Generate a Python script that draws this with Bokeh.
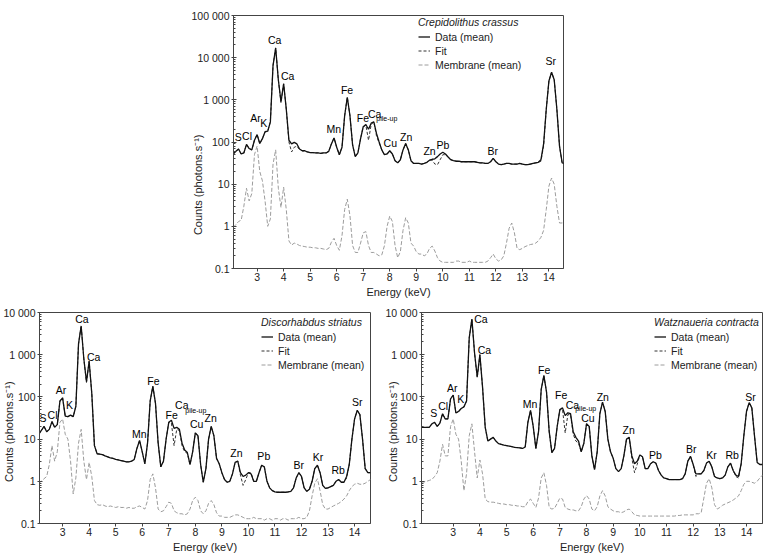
from bokeh.plotting import figure
from bokeh.models import (ColumnDataSource, Range1d, FixedTicker, CustomJSTickFormatter,
                          Legend, LegendItem)
from bokeh.layouts import column, row
from bokeh.embed import file_html
from bokeh.resources import INLINE
from bokeh.core.properties import value

FONT = "Liberation Sans"

# energy grids (keV)
energy_a = [round(2.1 + 0.1 * i, 1) for i in range(126)]   # 2.1 .. 14.6
energy_c = [round(1.8 + 0.1 * i, 1) for i in range(129)]   # 1.8 .. 14.6
x_ticks = [3, 4, 5, 6, 7, 8, 9, 10, 11, 12, 13, 14]

# ---------------- Crepidolithus crassus ----------------
crep_data = [
    52, 60, 68, 52, 55, 88, 70, 65, 110, 150,
    92, 120, 175, 180, 300, 6500, 17000, 3000, 900, 2400,
    600, 110, 90, 98, 90, 68, 62, 62, 58, 56,
    56, 55, 55, 54, 55, 55, 60, 90, 125, 75,
    50, 75, 420, 1150, 420, 85, 45, 55, 120, 230,
    260, 200, 280, 300, 160, 100, 65, 50, 52, 62,
    52, 36, 32, 38, 65, 92, 65, 36, 31, 31,
    31, 30, 31, 33, 37, 39, 40, 45, 52, 57,
    52, 44, 38, 36, 35, 35, 34, 34, 34, 34,
    34, 34, 33, 32, 32, 31, 31, 34, 41, 34,
    30, 29, 30, 31, 31, 30, 30, 30, 31, 30,
    29, 29, 30, 31, 32, 33, 38, 90, 600, 2800,
    4500, 3000, 600, 80, 32, 31]
crep_fit = [
    52, 60, 68, 52, 55, 88, 70, 65, 110, 150,
    92, 120, 175, 180, 300, 6500, 17000, 3000, 850, 2400,
    600, 100, 58, 75, 80, 66, 62, 60, 58, 56,
    56, 55, 55, 54, 55, 55, 60, 90, 125, 75,
    50, 75, 420, 1150, 420, 85, 45, 55, 120, 230,
    250, 110, 260, 300, 140, 95, 65, 50, 52, 62,
    52, 36, 32, 38, 65, 92, 65, 36, 31, 31,
    31, 30, 31, 33, 37, 37, 30, 29, 38, 50,
    50, 44, 38, 36, 35, 35, 34, 34, 34, 34,
    34, 34, 33, 32, 32, 31, 31, 34, 41, 34,
    30, 29, 30, 31, 31, 30, 30, 30, 31, 30,
    29, 29, 30, 31, 32, 33, 35, 80, 600, 2800,
    4500, 3000, 600, 80, 31, 31]
crep_memb = [
    0.95, 1.1, 1.3, 1.4, 3, 8, 4, 6, 50, 80,
    20, 12, 4, 1.0, 1.5, 30, 65, 8, 2.8, 8.5,
    2.5, 0.45, 0.36, 0.40, 0.38, 0.35, 0.34, 0.33, 0.32, 0.32,
    0.31, 0.31, 0.30, 0.30, 0.29, 0.28, 0.30, 0.42, 0.52, 0.35,
    0.27, 0.6, 2.5, 4.4, 1.8, 0.35, 0.24, 0.24, 0.4, 0.7,
    0.75, 0.35, 0.24, 0.24, 0.22, 0.20, 0.21, 0.35, 1.0, 1.75,
    1.3, 0.35, 0.18, 0.25, 0.8, 1.6, 1.2, 0.4, 0.34, 0.25,
    0.22, 0.22, 0.2, 0.22, 0.3, 0.34, 0.26, 0.18, 0.15, 0.14,
    0.14, 0.14, 0.14, 0.14, 0.15, 0.15, 0.14, 0.14, 0.14, 0.15,
    0.14, 0.14, 0.14, 0.14, 0.14, 0.14, 0.15, 0.18, 0.22, 0.17,
    0.15, 0.16, 0.2, 0.4, 0.9, 1.2, 0.7, 0.3, 0.28, 0.3,
    0.33, 0.35, 0.37, 0.38, 0.40, 0.45, 0.55, 0.8, 2.5, 9,
    14, 10, 3, 1.2, 1.2, 1.3]
crep_lab_text = ["S", "Cl", "Ar", "K", "Ca", "Ca", "Mn", "Fe", "Fe", "Ca", "Cu", "Zn", "Zn", "Pb", "Br", "Sr"]
crep_lab_x = [2.285, 2.62, 2.94, 3.25, 3.66, 4.15, 5.89, 6.39, 6.99, 7.43, 8.02, 8.62, 9.5, 10.0, 11.88, 14.07]
crep_lab_y = [129, 142, 372, 278, 26900, 3600, 204, 1730, 372, 464, 93, 134, 60, 86, 60, 8180]
crep_sub = (7.89, 353)

# ---------------- Discorhabdus striatus ----------------
disc_data = [
    13, 16, 20, 15, 17, 26, 19, 22, 80, 95,
    35, 34, 37, 34, 60, 1800, 4800, 800, 230, 700,
    120, 7, 4.5, 4.4, 4.3, 4.0, 3.8, 3.6, 3.5, 3.3,
    3.2, 3.1, 3.0, 2.9, 2.9, 3.0, 3.3, 6, 9.3, 5,
    2.6, 8, 80, 178, 70, 8, 2.2, 3, 10, 25,
    28, 18, 19, 17, 8, 5.5, 4.8, 2.5, 5, 14,
    12, 2.5, 0.95, 2, 10, 20, 12, 3.5, 2.6, 1.6,
    1.1, 0.95, 1.0, 1.5, 2.8, 3.0, 1.6, 1.3, 1.4, 1.6,
    1.5, 1.0, 1.0, 1.6, 2.4, 2.2, 1.0, 0.7, 0.6, 0.56,
    0.55, 0.55, 0.55, 0.55, 0.56, 0.58, 0.7, 1.2, 1.6, 1.3,
    0.7, 0.58, 0.65, 1.0, 2.0, 2.4, 1.6, 0.8, 0.68, 0.7,
    0.75, 0.8, 1.0, 1.1, 0.95, 0.95, 1.3, 2.5, 10, 30,
    48, 38, 10, 2.0, 1.6, 1.6]
disc_fit = [
    13, 16, 20, 15, 17, 26, 19, 22, 80, 95,
    35, 34, 37, 34, 60, 1800, 4800, 800, 220, 700,
    120, 7, 4.5, 4.4, 4.3, 4.0, 3.8, 3.6, 3.5, 3.3,
    3.2, 3.1, 3.0, 2.9, 2.9, 3.0, 3.3, 6, 9.3, 5,
    2.6, 8, 80, 178, 70, 8, 2.2, 3, 10, 25,
    24, 7, 17, 16, 7, 5, 4.6, 2.5, 5, 14,
    12, 2.5, 0.95, 2, 10, 20, 12, 3.5, 2.6, 1.6,
    1.1, 0.95, 1.0, 1.5, 2.8, 3.0, 1.4, 0.8, 1.1, 1.6,
    1.6, 1.0, 1.0, 1.6, 2.4, 2.2, 1.0, 0.7, 0.6, 0.56,
    0.55, 0.55, 0.55, 0.55, 0.56, 0.58, 0.7, 1.2, 1.6, 1.3,
    0.7, 0.58, 0.65, 1.0, 2.0, 2.4, 1.6, 0.8, 0.68, 0.7,
    0.75, 0.8, 1.0, 1.1, 0.95, 0.95, 1.2, 2.5, 10, 30,
    48, 38, 10, 2.0, 1.6, 1.6]
disc_memb = [
    0.9, 1.0, 1.15, 1.3, 2.5, 7, 3, 5, 25, 30,
    13, 10, 3, 0.5, 1.2, 8, 17, 3, 1.1, 2.8,
    1.3, 0.35, 0.28, 0.27, 0.28, 0.26, 0.25, 0.26, 0.25, 0.24,
    0.25, 0.24, 0.24, 0.23, 0.24, 0.23, 0.23, 0.25, 0.26, 0.24,
    0.22, 0.35, 1.1, 1.5, 0.7, 0.22, 0.19, 0.2, 0.25, 0.32,
    0.3, 0.2, 0.18, 0.17, 0.17, 0.16, 0.17, 0.22, 0.35, 0.42,
    0.35, 0.2, 0.17, 0.2, 0.3, 0.35, 0.28, 0.18, 0.15, 0.15,
    0.14, 0.14, 0.14, 0.15, 0.16, 0.16, 0.15, 0.14, 0.13, 0.13,
    0.13, 0.14, 0.13, 0.13, 0.13, 0.12, 0.13, 0.13, 0.12, 0.13,
    0.13, 0.12, 0.13, 0.13, 0.12, 0.13, 0.13, 0.13, 0.14, 0.13,
    0.13, 0.14, 0.2, 0.45, 0.9, 1.15, 0.6, 0.28, 0.22, 0.22,
    0.24, 0.26, 0.28, 0.3, 0.33, 0.38, 0.45, 0.6, 0.75, 0.85,
    0.9, 0.85, 0.85, 0.9, 1.0, 1.1]
disc_lab_text = ["S", "Cl", "Ar", "K", "Ca", "Ca", "Mn", "Fe", "Fe", "Ca", "Cu", "Zn", "Zn", "Pb", "Br", "Kr", "Rb", "Sr"]
disc_lab_x = [2.26, 2.62, 2.94, 3.26, 3.73, 4.17, 5.89, 6.42, 7.11, 7.49, 8.05, 8.58, 9.55, 10.58, 11.9, 12.62, 13.38, 14.1]
disc_lab_y = [31.6, 36.5, 149, 65, 7200, 887, 13.4, 239, 36.5, 63, 23, 32, 4.67, 3.9, 2.38, 3.75, 1.81, 76]
disc_sub = (8.02, 48)

# ---------------- Watznaueria contracta ----------------
watz_data = [
    19, 19, 19,
    19, 23, 25, 20, 24, 40, 30, 30, 90, 110,
    42, 45, 53, 58, 80, 2500, 7000, 1100, 300, 1000,
    170, 19, 9, 10, 11, 9, 7.8, 7.5, 7.2, 7.0,
    6.8, 6.6, 6.4, 6.3, 6.2, 6.0, 6.5, 25, 48, 20,
    6, 15, 150, 320, 130, 15, 4.8, 6, 20, 50,
    55, 36, 42, 40, 15, 11, 9, 5, 8, 23,
    20, 4, 1.9, 5, 40, 75, 45, 10, 5, 3.5,
    2, 1.7, 2.0, 4, 10, 11, 4, 2.6, 3.0, 4.2,
    3.8, 2.0, 2.0, 2.6, 2.9, 2.7, 1.8, 1.4, 1.2, 1.15,
    1.1, 1.1, 1.1, 1.1, 1.1, 1.15, 1.5, 3.0, 3.9, 2.5,
    1.5, 1.5, 1.5, 1.8, 2.7, 3.0, 2.2, 1.3, 1.2, 1.15,
    1.2, 1.4, 2.2, 2.7, 1.8, 1.4, 1.3, 2.6, 12, 45,
    73, 55, 12, 2.8, 2.5, 2.5]
watz_fit = [
    19, 19, 19,
    19, 23, 25, 20, 24, 40, 30, 30, 90, 110,
    42, 45, 53, 58, 80, 2500, 7000, 1100, 280, 1000,
    170, 19, 9, 10, 11, 9, 7.8, 7.5, 7.2, 7.0,
    6.8, 6.6, 6.4, 6.3, 6.2, 6.0, 6.5, 25, 48, 20,
    6, 15, 150, 320, 130, 15, 4.8, 6, 20, 50,
    50, 14, 38, 38, 13, 9, 8, 5, 8, 23,
    20, 4, 1.9, 5, 40, 75, 45, 10, 5, 3.5,
    2, 1.7, 2.0, 4, 10, 11, 3.5, 1.6, 2.5, 4.2,
    3.8, 2.0, 2.0, 2.6, 2.9, 2.7, 1.8, 1.4, 1.2, 1.15,
    1.1, 1.1, 1.1, 1.1, 1.1, 1.15, 1.5, 3.0, 3.9, 2.5,
    1.3, 1.5, 1.5, 1.8, 2.7, 3.0, 2.2, 1.3, 1.2, 1.15,
    1.2, 1.4, 2.2, 2.7, 1.8, 1.3, 1.2, 2.6, 12, 45,
    73, 55, 12, 2.8, 2.5, 2.5]
watz_memb = [
    0.95, 0.96, 1.0,
    1.05, 1.1, 1.3, 1.6, 3, 7.5, 4, 4, 20, 30,
    13, 10, 3, 0.6, 1.5, 12, 23, 5, 1.2, 3.2,
    1.5, 0.38, 0.33, 0.32, 0.32, 0.31, 0.30, 0.29, 0.29, 0.28,
    0.28, 0.27, 0.27, 0.26, 0.26, 0.25, 0.25, 0.33, 0.38, 0.3,
    0.24, 0.4, 1.2, 1.6, 0.8, 0.24, 0.22, 0.23, 0.3, 0.4,
    0.38, 0.24, 0.22, 0.21, 0.21, 0.2, 0.2, 0.25, 0.38, 0.46,
    0.38, 0.22, 0.2, 0.25, 0.45, 0.6, 0.45, 0.25, 0.22, 0.2,
    0.19, 0.19, 0.18, 0.19, 0.21, 0.22, 0.19, 0.16, 0.155, 0.15,
    0.15, 0.15, 0.15, 0.15, 0.15, 0.15, 0.15, 0.15, 0.15, 0.15,
    0.15, 0.15, 0.15, 0.155, 0.155, 0.16, 0.16, 0.16, 0.16, 0.16,
    0.17, 0.17, 0.18, 0.4, 0.9, 1.15, 0.7, 0.28, 0.22, 0.24,
    0.27, 0.29, 0.31, 0.33, 0.36, 0.4, 0.45, 0.6, 0.85, 1.0,
    1.0, 0.95, 0.9, 1.0, 1.2, 1.4]
watz_lab_text = ["S", "Cl", "Ar", "K", "Ca", "Ca", "Mn", "Fe", "Fe", "Ca", "Cu", "Zn", "Zn", "Pb", "Br", "Kr", "Rb", "Sr"]
watz_lab_x = [2.27, 2.62, 2.96, 3.28, 4.04, 4.17, 5.88, 6.41, 7.05, 7.47, 8.05, 8.61, 9.58, 10.58, 11.93, 12.69, 13.46, 14.15]
watz_lab_y = [41.6, 60, 166, 91, 7200, 1325, 67, 443, 109, 63, 32, 100, 16.1, 4.3, 5.9, 4.3, 4.3, 100]
watz_sub = (7.97, 52)

series_names = ["Data (mean)", "Fit", "Membrane (mean)"]
y_title = "Counts (photons.s\u207b\u00b9)"
NBSP = "\u00a0"

tick_fmt = CustomJSTickFormatter(code=r"""
if (tick < 1) { return tick.toPrecision(1); }
return Math.round(tick).toString().replace(/\B(?=(\d{3})+(?!\d))/g, " ");
""")


def panel(energy, data, fit, memb, xr, ymax, lab_text, lab_x, lab_y, sub, title,
          fw, fh, mbl, mbr, mbt, mbb, leg_xy, ylab_standoff, ylab_pad):
    p = figure(x_range=Range1d(*xr), y_range=Range1d(0.1, ymax), y_axis_type="log",
               frame_width=fw, frame_height=fh,
               min_border_left=mbl, min_border_right=mbr,
               min_border_top=mbt, min_border_bottom=mbb,
               output_backend="svg", toolbar_location=None)
    p.grid.visible = False
    p.outline_line_color = "#444444"
    p.outline_line_width = 1
    p.background_fill_color = "white"
    p.border_fill_color = "white"

    src = ColumnDataSource(dict(e=energy, d=data, f=fit, m=memb))
    r_m = p.line("e", "m", source=src, line_color="#9c9c9c", line_dash="4 2", line_width=1)
    r_f = p.line("e", "f", source=src, line_color="#333333", line_dash="3 2", line_width=1)
    r_d = p.line("e", "d", source=src, line_color="#111111", line_width=1.3)

    lsrc = ColumnDataSource(dict(x=lab_x, y=lab_y, t=lab_text))
    p.text("x", "y", text="t", source=lsrc, text_align="center", text_baseline="middle",
           text_font=value(FONT), text_font_size="10.5px", text_color="black")
    ssrc = ColumnDataSource(dict(x=[sub[0]], y=[sub[1]], t=["pile-up"]))
    p.text("x", "y", text="t", source=ssrc, text_align="center", text_baseline="middle",
           text_font=value(FONT), text_font_size="7px", text_color="black")

    # axes
    for ax in (p.xaxis[0], p.yaxis[0]):
        ax.axis_line_color = "#444444"
        ax.major_tick_line_color = "#444444"
        ax.minor_tick_line_color = "#444444"
        ax.major_label_text_font = FONT
        ax.major_label_text_font_size = "10.5px"
        ax.major_label_text_color = "#222222"
        ax.axis_label_text_font = FONT
        ax.axis_label_text_font_size = "11px"
        ax.axis_label_text_font_style = "normal"
        ax.axis_label_text_color = "#222222"
    p.xaxis.ticker = FixedTicker(ticks=x_ticks)
    p.xaxis.major_tick_in = 0
    p.xaxis.major_tick_out = 3
    p.xaxis.minor_tick_line_color = None
    p.xaxis.major_label_standoff = 1
    p.xaxis.axis_label = "Energy (keV)"
    p.xaxis.axis_label_standoff = 2

    p.yaxis.formatter = tick_fmt
    p.yaxis.major_tick_in = 3
    p.yaxis.major_tick_out = 2
    p.yaxis.minor_tick_in = 2
    p.yaxis.minor_tick_out = 0
    p.yaxis.major_label_standoff = 2
    # title sits a little below the frame centre, as in the original
    p.yaxis.axis_label = y_title + NBSP * ylab_pad
    p.yaxis.axis_label_standoff = ylab_standoff

    leg = Legend(items=[LegendItem(label=series_names[0], renderers=[r_d]),
                        LegendItem(label=series_names[1], renderers=[r_f]),
                        LegendItem(label=series_names[2], renderers=[r_m])],
                 location=leg_xy, title=title)
    leg.title_text_font = FONT
    leg.title_text_font_size = "10.5px"
    leg.title_text_font_style = "italic"
    leg.title_text_color = "#222222"
    leg.title_standoff = 2
    leg.label_text_font = FONT
    leg.label_text_font_size = "10.5px"
    leg.label_text_color = "#222222"
    leg.background_fill_alpha = 0
    leg.border_line_color = None
    leg.padding = 0
    leg.margin = 0
    leg.spacing = 1
    leg.glyph_width = 12
    leg.glyph_height = 13
    leg.label_height = 13
    leg.label_standoff = 5
    p.add_layout(leg)
    return p


top = panel(energy_a, crep_data, crep_fit, crep_memb, (2.11, 14.55), 100000,
            crep_lab_text, crep_lab_x, crep_lab_y, crep_sub, "Crepidolithus crassus",
            330, 253, 233, 202, 15, 34, (185, 197), -15, 28)
left = panel(energy_a, disc_data, disc_fit, disc_memb, (2.13, 14.6), 10000,
             disc_lab_text, disc_lab_x, disc_lab_y, disc_sub, "Discorhabdus striatus",
             331, 211, 38, 13, 10, 31, (222, 152), -15, 9)
right = panel(energy_c, watz_data, watz_fit, watz_memb, (1.81, 14.6), 10000,
              watz_lab_text, watz_lab_x, watz_lab_y, watz_sub, "Watznaueria contracta",
              341, 211, 38, 4, 10, 31, (233, 152), -17, 9)

layout = column(top, row(left, right, spacing=0), spacing=0)
open("out.html", "w").write(file_html(layout, INLINE))
